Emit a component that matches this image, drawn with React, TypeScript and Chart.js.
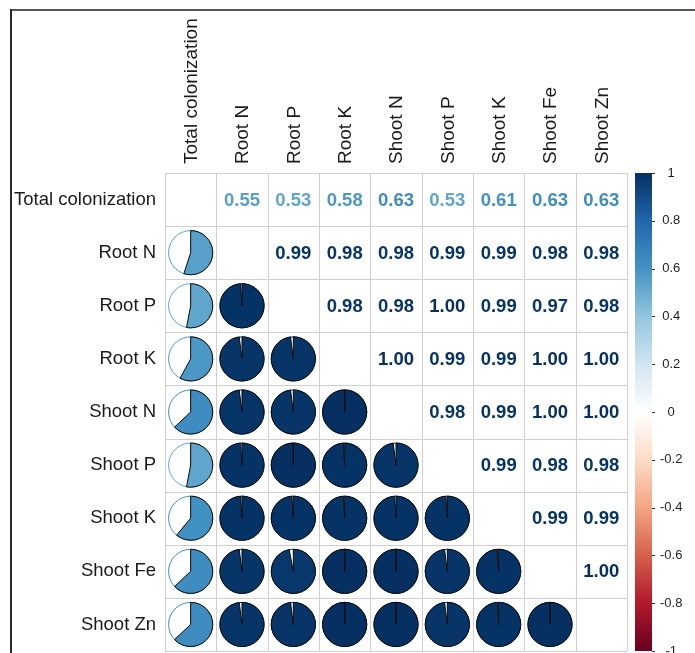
import React, { useEffect, useRef } from "react";
import { Chart, registerables } from "chart.js";

Chart.register(...registerables);

// ---- data ----
const VARS = [
  "Total colonization",
  "Root N",
  "Root P",
  "Root K",
  "Shoot N",
  "Shoot P",
  "Shoot K",
  "Shoot Fe",
  "Shoot Zn",
];
// upper-triangle correlations, row by row (columns to the right of the diagonal)
const R_TOTAL = [0.55, 0.53, 0.58, 0.63, 0.53, 0.61, 0.63, 0.63];
const R_ROOT_N = [0.99, 0.98, 0.98, 0.99, 0.99, 0.98, 0.98];
const R_ROOT_P = [0.98, 0.98, 1.0, 0.99, 0.97, 0.98];
const R_ROOT_K = [1.0, 0.99, 0.99, 1.0, 1.0];
const R_SHOOT_N = [0.98, 0.99, 1.0, 1.0];
const R_SHOOT_P = [0.99, 0.98, 0.98];
const R_SHOOT_K = [0.99, 0.99];
const R_SHOOT_FE = [1.0];
const UPPER = [R_TOTAL, R_ROOT_N, R_ROOT_P, R_ROOT_K, R_SHOOT_N, R_SHOOT_P, R_SHOOT_K, R_SHOOT_FE];

const CB_TICKS = [-1, -0.8, -0.6, -0.4, -0.2, 0, 0.2, 0.4, 0.6, 0.8, 1];
const CB_LABELS = ["-1", "-0.8", "-0.6", "-0.4", "-0.2", "0", "0.2", "0.4", "0.6", "0.8", "1"];

// ---- palette (corrplot RdBu) ----
const RDBU = ["#67001F", "#B2182B", "#D6604D", "#F4A582", "#FDDBC7", "#FFFFFF", "#D1E5F0", "#92C5DE", "#4393C3", "#2166AC", "#053061"];
const hex = (h: string) => [parseInt(h.slice(1, 3), 16), parseInt(h.slice(3, 5), 16), parseInt(h.slice(5, 7), 16)];
function colorFor(v: number) {
  const t = Math.max(0, Math.min(1, (v + 1) / 2)) * (RDBU.length - 1);
  const i = Math.min(RDBU.length - 2, Math.floor(t));
  const f = t - i;
  const a = hex(RDBU[i]);
  const b = hex(RDBU[i + 1]);
  const c = a.map((x, k) => Math.round(x + (b[k] - x) * f));
  return `rgb(${c[0]},${c[1]},${c[2]})`;
}

function corr(i: number, j: number) {
  if (i === j) return 1;
  const a = Math.min(i, j);
  const b = Math.max(i, j);
  return UPPER[a][b - a - 1];
}

const FONT = "'Liberation Sans', Arial, sans-serif";
const X_FONT_SIZE = 19;

const corrPlugin = {
  id: "corrDraw",
  beforeDraw(chart: any) {
    const ctx = chart.ctx;
    ctx.save();
    ctx.fillStyle = "#ffffff";
    ctx.fillRect(0, 0, chart.width, chart.height);
    ctx.fillStyle = "#585858";
    ctx.fillRect(10, 9, chart.width - 10, 2);
    ctx.fillStyle = "#2a2a2a";
    ctx.fillRect(10, 9, 2, chart.height - 9);
    ctx.restore();
  },
  beforeDatasetsDraw(chart: any) {
    const ctx = chart.ctx;
    const { left, right, top, bottom } = chart.chartArea;
    const n = VARS.length;
    const cw = (right - left) / n;
    const ch = (bottom - top) / n;
    ctx.save();
    ctx.strokeStyle = "#cfcfcf";
    ctx.lineWidth = 1;
    ctx.beginPath();
    for (let i = 0; i <= n; i++) {
      const x = Math.round(left + i * cw) + 0.5;
      ctx.moveTo(x, top);
      ctx.lineTo(x, bottom);
      const y = Math.round(top + i * ch) + 0.5;
      ctx.moveTo(left, y);
      ctx.lineTo(right, y);
    }
    ctx.stroke();
    ctx.restore();
  },
  afterDatasetsDraw(chart: any) {
    const ctx = chart.ctx;
    const { left, right, top, bottom } = chart.chartArea;
    const n = VARS.length;
    const cw = (right - left) / n;
    const ch = (bottom - top) / n;
    const R = 0.43 * Math.min(cw, ch);
    ctx.save();
    // pies
    const pieMeta = chart.getDatasetMeta(0);
    const pieData = chart.data.datasets[0].data;
    pieMeta.data.forEach((pt: any, k: number) => {
      const v = pieData[k].v;
      const col = colorFor(v);
      const x = pt.x;
      const y = pt.y;
      ctx.beginPath();
      ctx.arc(x, y, R, 0, Math.PI * 2);
      ctx.fillStyle = "#ffffff";
      ctx.fill();
      ctx.lineWidth = 1;
      ctx.strokeStyle = col;
      ctx.stroke();
      ctx.beginPath();
      ctx.moveTo(x, y);
      ctx.arc(x, y, R, -Math.PI / 2, -Math.PI / 2 + Math.PI * 2 * Math.abs(v));
      ctx.closePath();
      ctx.fillStyle = col;
      ctx.fill();
      ctx.strokeStyle = "#0a0a0a";
      ctx.stroke();
    });
    // numbers
    const numMeta = chart.getDatasetMeta(1);
    const numData = chart.data.datasets[1].data;
    ctx.font = `bold 18.5px ${FONT}`;
    ctx.textAlign = "center";
    ctx.textBaseline = "middle";
    numMeta.data.forEach((pt: any, k: number) => {
      const v = numData[k].v;
      ctx.fillStyle = colorFor(v);
      ctx.fillText(v.toFixed(2), pt.x, pt.y + 1);
    });
    // colour bar
    const s = chart.scales.cb;
    const yTop = s.getPixelForValue(1);
    const yBot = s.getPixelForValue(-1);
    const x0 = right + 8;
    const x1 = right + 25;
    const g = ctx.createLinearGradient(0, yBot, 0, yTop);
    RDBU.forEach((c, i) => g.addColorStop(i / (RDBU.length - 1), c));
    ctx.fillStyle = g;
    ctx.fillRect(x0, yTop, x1 - x0, yBot - yTop);
    ctx.strokeStyle = "#333";
    ctx.lineWidth = 1;
    ctx.beginPath();
    CB_TICKS.forEach((t) => {
      const y = Math.round(s.getPixelForValue(t)) + 0.5;
      ctx.moveTo(x1, y);
      ctx.lineTo(x1 + 3, y);
    });
    ctx.stroke();
    ctx.restore();
  },
};

export default function App() {
  const ref = useRef<HTMLCanvasElement | null>(null);
  useEffect(() => {
    if (!ref.current) return;
    const n = VARS.length;
    const pies: any[] = [];
    const nums: any[] = [];
    for (let i = 0; i < n; i++) {
      for (let j = 0; j < n; j++) {
        if (i === j) continue;
        const p = { x: VARS[j], y: VARS[i], v: corr(i, j) };
        if (i > j) pies.push(p);
        else nums.push(p);
      }
    }
    const chart = new Chart(ref.current, {
      type: "scatter",
      data: {
        datasets: [
          { label: "pie", data: pies, pointRadius: 0, pointHoverRadius: 0 },
          { label: "num", data: nums, pointRadius: 0, pointHoverRadius: 0 },
        ],
      },
      plugins: [corrPlugin],
      options: {
        responsive: false,
        animation: false,
        events: [],
        layout: { padding: { top: 0, left: 0, right: 0, bottom: 2 } },
        plugins: { legend: { display: false }, tooltip: { enabled: false } },
        scales: {
          x: {
            type: "category",
            labels: VARS,
            position: "top",
            offset: true,
            grid: { display: false, drawTicks: false },
            border: { display: false },
            ticks: {
              autoSkip: false,
              minRotation: 90,
              maxRotation: 90,
              padding: 9,
              labelOffset: X_FONT_SIZE * 1.2 + 1,
              color: "#1a1a1a",
              font: { family: FONT, size: X_FONT_SIZE },
            },
            afterFit: (sc: any) => {
              sc.height = 173;
              sc.paddingLeft = 0;
              sc.paddingRight = 0;
            },
          },
          y: {
            type: "category",
            labels: VARS,
            position: "left",
            offset: true,
            grid: { display: false, drawTicks: false },
            border: { display: false },
            ticks: {
              autoSkip: false,
              padding: 9,
              color: "#1a1a1a",
              font: { family: FONT, size: 18.5 },
            },
            afterFit: (sc: any) => {
              sc.width = 165;
              sc.paddingTop = 0;
              sc.paddingBottom = 0;
            },
          },
          cb: {
            type: "linear",
            position: "right",
            min: -1,
            max: 1,
            grid: { display: false, drawTicks: false },
            border: { display: false },
            afterBuildTicks: (sc: any) => {
              sc.ticks = CB_TICKS.map((v) => ({ value: v }));
            },
            ticks: {
              padding: 33,
              crossAlign: "center",
              color: "#222",
              font: { family: FONT, size: 13 },
              callback: (val: any) => {
                const idx = CB_TICKS.findIndex((t) => Math.abs(t - Number(val)) < 1e-6);
                return idx >= 0 ? CB_LABELS[idx] : "";
              },
            },
            afterFit: (sc: any) => {
              sc.width = 68;
              sc.paddingTop = 0;
              sc.paddingBottom = 0;
            },
          },
        },
      } as any,
    });
    return () => chart.destroy();
  }, []);
  return (
    <div style={{ position: "absolute", left: 0, top: 0, width: 695, height: 653, background: "#fff" }}>
      <canvas ref={ref} width={695} height={653} style={{ display: "block" }} />
    </div>
  );
}
